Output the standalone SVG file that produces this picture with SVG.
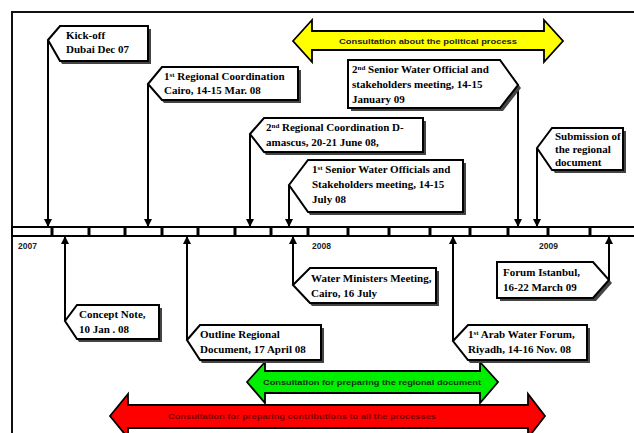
<svg xmlns="http://www.w3.org/2000/svg" width="634" height="433" viewBox="0 0 634 433">
<defs>
<style>
.frame{fill:none;stroke:#111;stroke-width:2}
.box{fill:#fff;stroke:#000;stroke-width:2;stroke-linejoin:miter}
.shadow{fill:#444;stroke:none}
.lbl{font-family:"Liberation Serif","Times New Roman",serif;font-weight:bold;font-size:11px;fill:#000}
.yr{font-family:"Liberation Sans",Arial,sans-serif;font-weight:bold;font-size:8.5px;fill:#222}
.big{stroke:#000;stroke-width:1.8;stroke-linejoin:miter}
.btxt{font-family:"Liberation Sans",Arial,sans-serif;font-weight:bold;font-size:8px;text-anchor:middle}
.conn line{stroke:#000;stroke-width:2;fill:none}
.tick{stroke:#000;stroke-width:3}
</style>
<marker id="ah" viewBox="0 0 10 10" refX="10" refY="5" markerWidth="4" markerHeight="4" orient="auto" markerUnits="strokeWidth">
<path d="M0,0 L10,5 L0,10 Z" fill="#000"/>
</marker>
</defs>
<rect x="0" y="0" width="634" height="433" fill="#fff"/>
<rect class="frame" x="12" y="12" width="640" height="440"/>

<!-- timeline bar -->
<g id="timeline">
<rect x="12" y="227" width="630" height="9" fill="#fff" stroke="#000" stroke-width="2"/>
<g class="tick">
<line x1="52" y1="227" x2="52" y2="236"/><line x1="89" y1="227" x2="89" y2="236"/><line x1="125" y1="227" x2="125" y2="236"/><line x1="162" y1="227" x2="162" y2="236"/><line x1="198" y1="227" x2="198" y2="236"/><line x1="235" y1="227" x2="235" y2="236"/><line x1="271" y1="227" x2="271" y2="236"/><line x1="308" y1="227" x2="308" y2="236"/><line x1="348" y1="227" x2="348" y2="236"/><line x1="389" y1="227" x2="389" y2="236"/><line x1="430" y1="227" x2="430" y2="236"/><line x1="470" y1="227" x2="470" y2="236"/><line x1="508" y1="227" x2="508" y2="236"/><line x1="548" y1="227" x2="548" y2="236"/><line x1="590" y1="227" x2="590" y2="236"/>
</g>
<text class="yr" x="18" y="249">2007</text>
<text class="yr" x="312" y="249">2008</text>
<text class="yr" x="539" y="249">2009</text>
</g>

<!-- connectors -->
<g id="connectors" class="conn">
<line x1="48" y1="40" x2="48" y2="227" marker-end="url(#ah)"/>
<line x1="148" y1="84" x2="148" y2="227" marker-end="url(#ah)"/>
<line x1="250" y1="134" x2="250" y2="227" marker-end="url(#ah)"/>
<line x1="289" y1="185" x2="289" y2="227" marker-end="url(#ah)"/>
<line x1="518" y1="85" x2="518" y2="227" marker-end="url(#ah)"/>
<line x1="537" y1="148" x2="537" y2="227" marker-end="url(#ah)"/>
<line x1="65" y1="321" x2="65" y2="236" marker-end="url(#ah)"/>
<line x1="187" y1="340" x2="187" y2="236" marker-end="url(#ah)"/>
<line x1="293" y1="285" x2="293" y2="236" marker-end="url(#ah)"/>
<line x1="453" y1="341" x2="453" y2="236" marker-end="url(#ah)"/>
<line x1="609" y1="280" x2="609" y2="236" marker-end="url(#ah)"/>
</g>

<!-- big arrows -->
<g id="yellow-arrow">
<polygon class="big" fill="#ffff00" points="293,41 312,20 312,31 544,31 544,20 563,41 544,62 544,50 312,50 312,62"/>
<text class="btxt" x="428" y="44" fill="#222" textLength="178" lengthAdjust="spacingAndGlyphs">Consultation about the political process</text>
</g>
<g id="green-arrow">
<polygon class="big" fill="#00ee00" points="247,382 265,362 265,371 480,371 480,362 498,382 480,403 480,393 265,393 265,403"/>
<text class="btxt" x="372" y="385" fill="#113311" textLength="218" lengthAdjust="spacingAndGlyphs">Consultation for preparing the regional document</text>
</g>
<g id="red-arrow">
<polygon class="big" fill="#ff0000" points="110,416 128,394 128,405 528,405 528,394 545,416 528,438 528,428 128,428 128,438"/>
<text class="btxt" x="302" y="419" fill="#7a0000" textLength="268" lengthAdjust="spacingAndGlyphs">Consultation for preparing contributions to all the processes</text>
</g>

<!-- top nodes -->
<g id="n-kickoff">
<path class="shadow" d="M50,43 L62,29 L151,29 L151,64 L62,64 Z"/>
<path class="box" d="M48,40 L60,26 L148,26 L148,61 L60,61 Z"/>
<text class="lbl" x="66" y="39">Kick-off</text>
<text class="lbl" x="66" y="53">Dubai Dec 07</text>
</g>
<g id="n-cairo-coord">
<path class="shadow" d="M150,87 L164,70 L301,70 L301,103 L164,103 Z"/>
<path class="box" d="M148,84 L162,67 L298,67 L298,100 L162,100 Z"/>
<text class="lbl" x="164" y="80">1<tspan font-size="7" dy="-3">st</tspan><tspan dy="3"> Regional Coordination</tspan></text>
<text class="lbl" x="164" y="94">Cairo, 14-15 Mar. 08</text>
</g>
<g id="n-senior2">
<path class="shadow" d="M351,63 L503,63 L521,88 L503,111 L351,111 Z"/>
<path class="box" d="M348,60 L500,60 L518,85 L500,108 L348,108 Z"/>
<text class="lbl" x="352" y="73">2<tspan font-size="7" dy="-3">nd</tspan><tspan dy="3"> Senior Water Official and</tspan></text>
<text class="lbl" x="352" y="88">stakeholders meeting, 14-15</text>
<text class="lbl" x="352" y="103">January 09</text>
</g>
<g id="n-damascus">
<path class="shadow" d="M252,137 L266,121 L426,121 L426,155 L266,155 Z"/>
<path class="box" d="M250,134 L264,118 L423,118 L423,152 L264,152 Z"/>
<text class="lbl" x="266" y="131">2<tspan font-size="7" dy="-3">nd</tspan><tspan dy="3"> Regional Coordination D-</tspan></text>
<text class="lbl" x="266" y="146">amascus, 20-21 June 08,</text>
</g>
<g id="n-senior1">
<path class="shadow" d="M291,188 L310,163 L466,163 L466,215 L310,215 Z"/>
<path class="box" d="M289,185 L308,160 L463,160 L463,212 L308,212 Z"/>
<text class="lbl" x="312" y="173">1<tspan font-size="7" dy="-3">st</tspan><tspan dy="3"> Senior Water Officials and</tspan></text>
<text class="lbl" x="312" y="188">Stakeholders meeting, 14-15</text>
<text class="lbl" x="312" y="203">July 08</text>
</g>
<g id="n-submission">
<path class="shadow" d="M539,151 L555,131 L626,131 L626,173 L555,173 Z"/>
<path class="box" d="M537,148 L552,128 L623,128 L623,170 L552,170 Z"/>
<text class="lbl" x="555" y="140">Submission of</text>
<text class="lbl" x="555" y="153">the regional</text>
<text class="lbl" x="555" y="166">document</text>
</g>

<!-- bottom nodes -->
<g id="n-concept">
<path class="shadow" d="M67,324 L79,308 L162,308 L162,342 L79,342 Z"/>
<path class="box" d="M65,321 L77,305 L159,305 L159,339 L77,339 Z"/>
<text class="lbl" x="79" y="318">Concept Note,</text>
<text class="lbl" x="79" y="333">10 Jan . 08</text>
</g>
<g id="n-outline">
<path class="shadow" d="M189,343 L202,328 L324,328 L324,363 L202,363 Z"/>
<path class="box" d="M187,340 L200,325 L321,325 L321,360 L200,360 Z"/>
<text class="lbl" x="200" y="338">Outline Regional</text>
<text class="lbl" x="200" y="353">Document, 17 April 08</text>
</g>
<g id="n-ministers">
<path class="shadow" d="M295,288 L312,271 L439,271 L439,306 L312,306 Z"/>
<path class="box" d="M293,285 L310,268 L436,268 L436,303 L310,303 Z"/>
<text class="lbl" x="311" y="282">Water Ministers Meeting,</text>
<text class="lbl" x="311" y="297">Cairo, 16 July</text>
</g>
<g id="n-arabforum">
<path class="shadow" d="M455,344 L470,328 L590,328 L590,363 L470,363 Z"/>
<path class="box" d="M453,341 L468,325 L587,325 L587,360 L468,360 Z"/>
<text class="lbl" x="468" y="338">1<tspan font-size="7" dy="-3">st</tspan><tspan dy="3"> Arab Water Forum,</tspan></text>
<text class="lbl" x="468" y="353">Riyadh, 14-16 Nov. 08</text>
</g>
<g id="n-istanbul">
<path class="shadow" d="M500,265 L596,265 L612,283 L596,301 L500,301 Z"/>
<path class="box" d="M497,262 L593,262 L609,280 L593,298 L497,298 Z"/>
<text class="lbl" x="503" y="276">Forum Istanbul,</text>
<text class="lbl" x="503" y="291">16-22 March 09</text>
</g>
</svg>
